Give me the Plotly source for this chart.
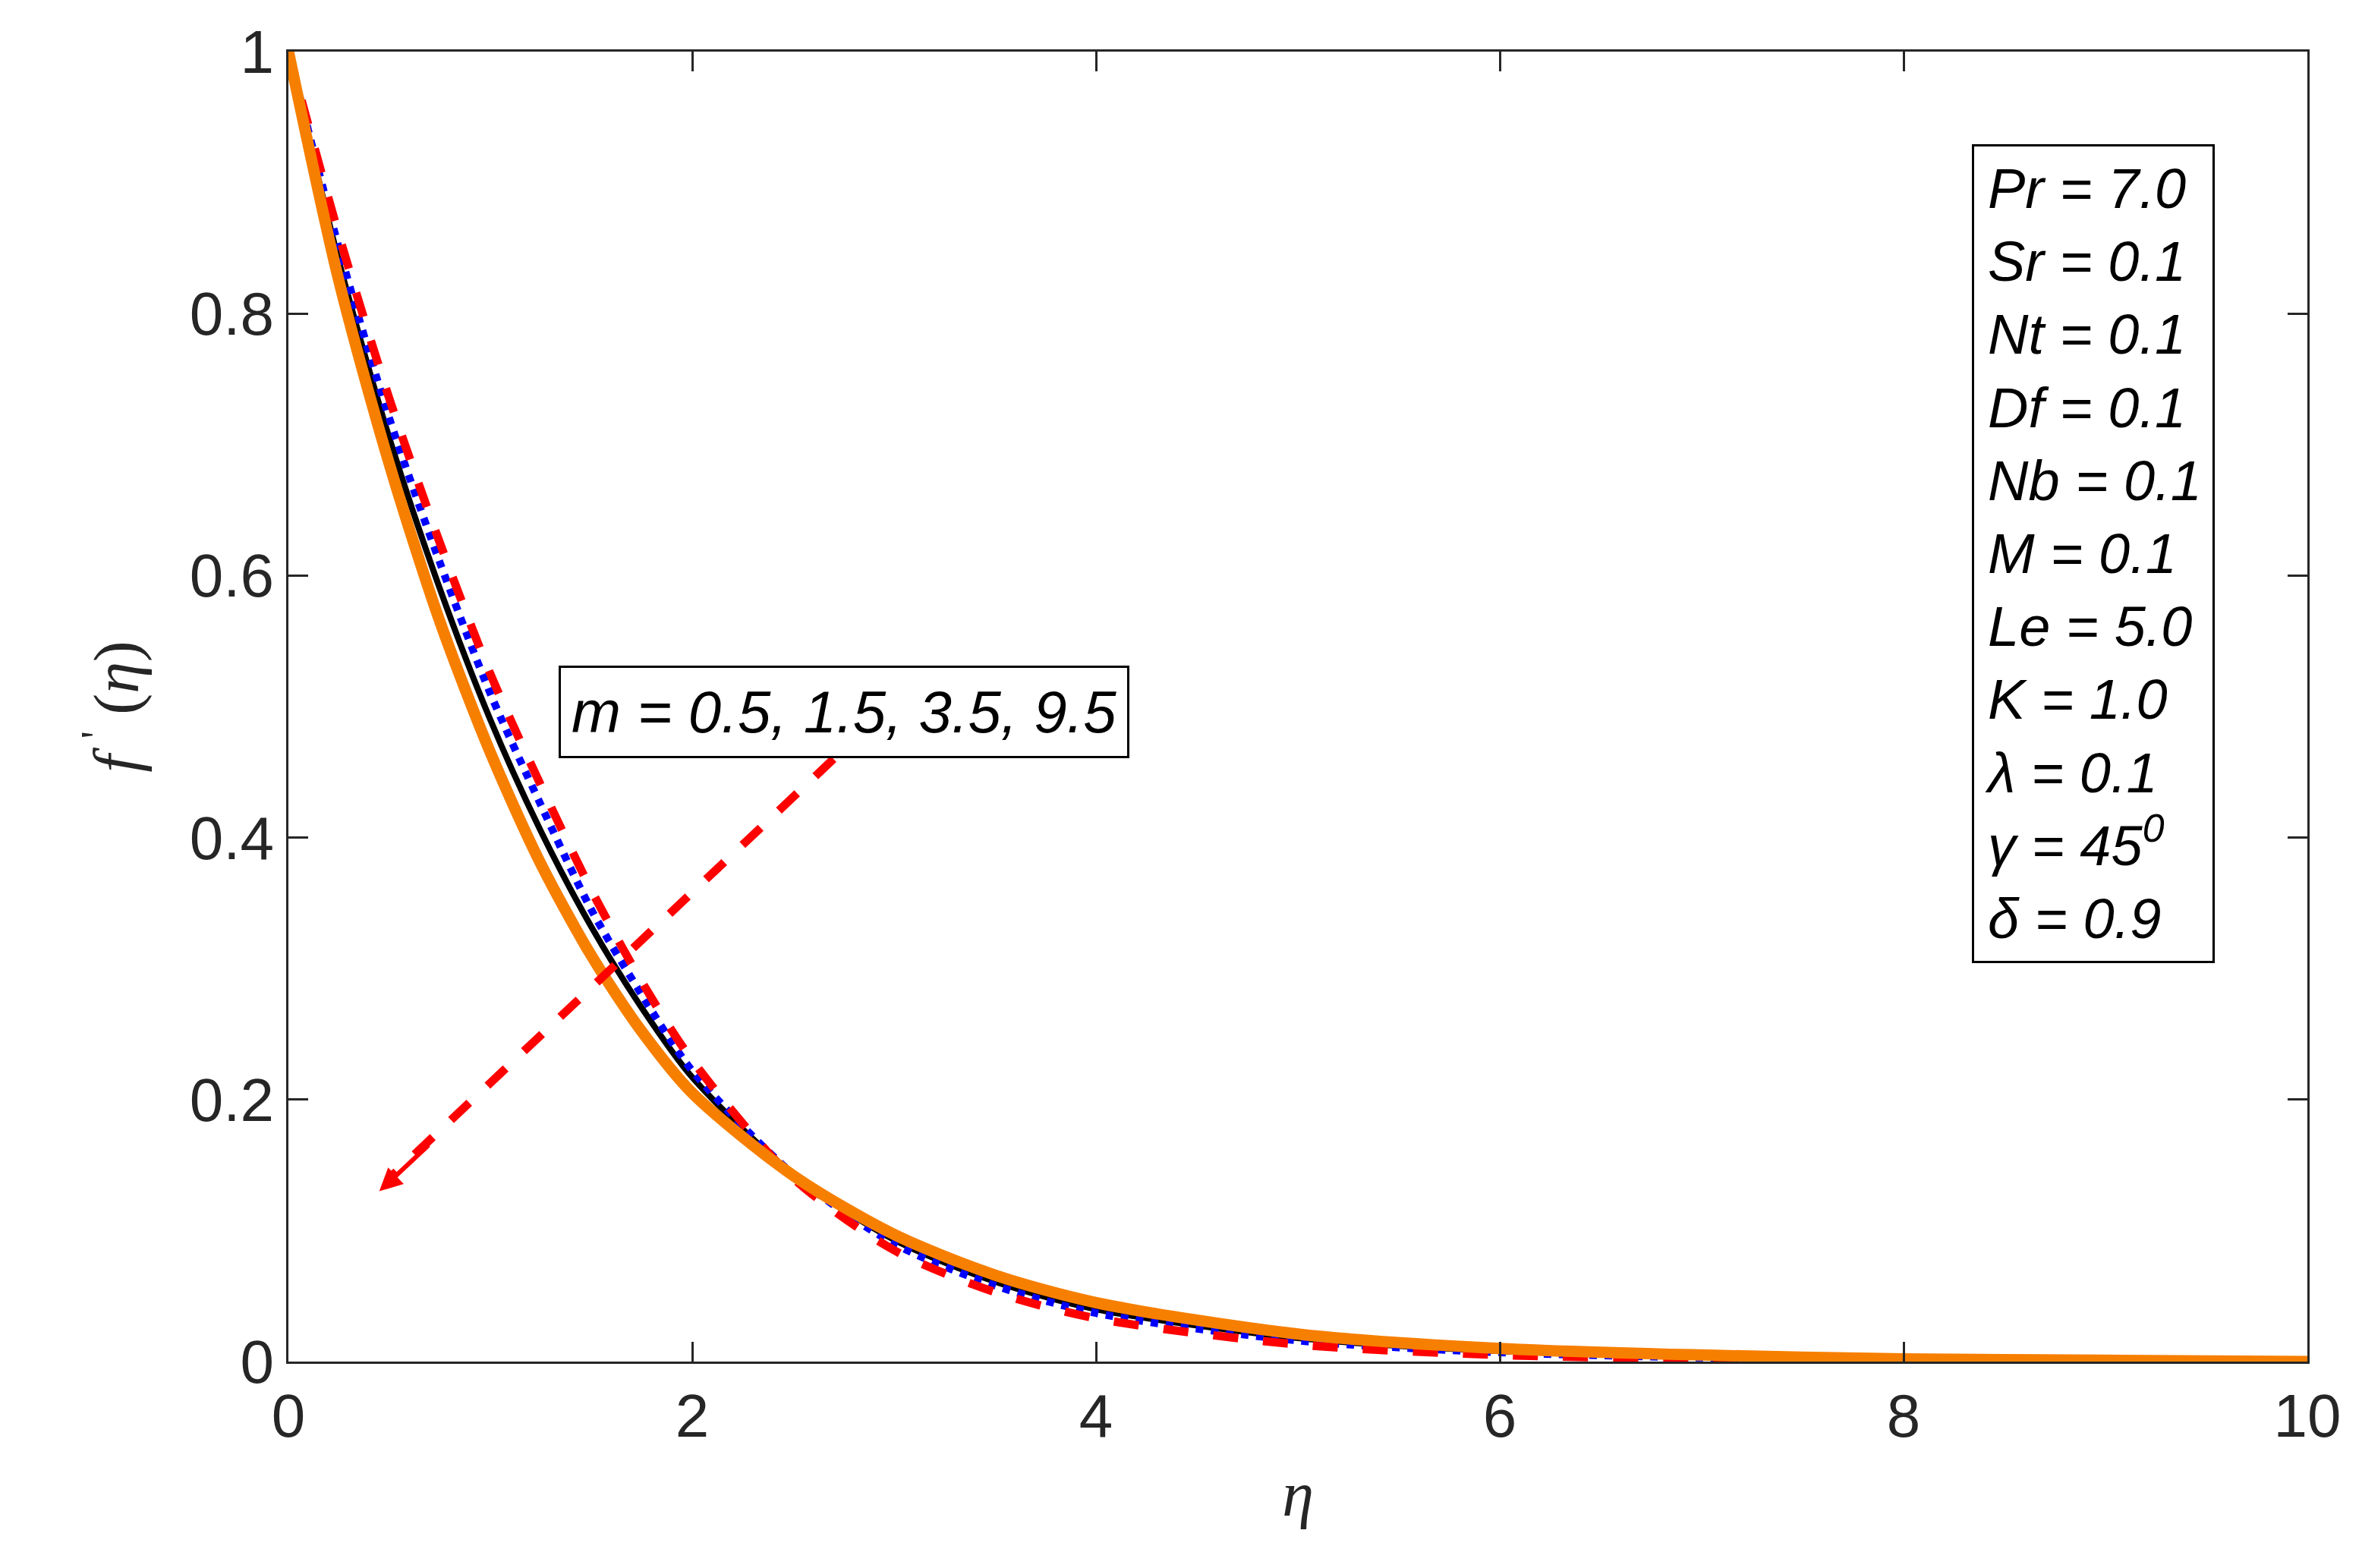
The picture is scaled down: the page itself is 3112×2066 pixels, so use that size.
import plotly.graph_objects as go

eta = [0, 0.25, 0.5, 0.75, 1.0, 1.25, 1.5, 1.75, 2.0, 2.5, 3.0, 3.5, 4.0, 5.0, 6.0, 7.0, 8.0, 9.0, 10.0]
f_m05 = [1, 0.86, 0.735, 0.625, 0.525, 0.44, 0.36, 0.29, 0.23, 0.14, 0.085, 0.053, 0.033, 0.013, 0.005, 0.002, 0.001, 0.0, 0.0]
f_m15 = [1, 0.85, 0.72, 0.61, 0.51, 0.425, 0.345, 0.28, 0.222, 0.143, 0.09, 0.058, 0.037, 0.016, 0.007, 0.003, 0.001, 0.0, 0.0]
f_m35 = [1, 0.84, 0.705, 0.59, 0.49, 0.405, 0.332, 0.27, 0.217, 0.143, 0.093, 0.061, 0.04, 0.018, 0.008, 0.004, 0.002, 0.001, 0.0]
f_m95 = [1, 0.825, 0.685, 0.565, 0.465, 0.38, 0.31, 0.252, 0.205, 0.142, 0.097, 0.066, 0.045, 0.021, 0.01, 0.005, 0.002, 0.001, 0.0]

params = ["Pr = 7.0", "Sr = 0.1", "Nt = 0.1", "Df = 0.1", "Nb = 0.1", "M = 0.1",
          "Le = 5.0", "K = 1.0", "λ = 0.1", "γ = 45<sup>0</sup>", "δ = 0.9"]
m_label = "m = 0.5, 1.5, 3.5, 9.5"

fig = go.Figure()
fig.add_trace(go.Scatter(x=eta, y=f_m35, mode="lines", line=dict(color="black", width=8, shape="spline", smoothing=0.8)))
fig.add_trace(go.Scatter(x=eta, y=f_m15, mode="lines", line=dict(color="blue", width=10, dash="dot", shape="spline", smoothing=0.8)))
fig.add_trace(go.Scatter(x=eta, y=f_m05, mode="lines", line=dict(color="red", width=11, dash="dash", shape="spline", smoothing=0.8)))
fig.add_trace(go.Scatter(x=eta, y=f_m95, mode="lines", line=dict(color="#f77f00", width=15, shape="spline", smoothing=0.8)))

# arrow
fig.add_shape(type="line", x0=2.7, y0=0.46, x1=0.5, y1=0.14, line=dict(color="red", width=11, dash="dash"))
fig.add_annotation(x=0.45, y=0.13, ax=0.7, ay=0.166, xref="x", yref="y", axref="x", ayref="y",
                   text="", showarrow=True, arrowhead=2, arrowsize=1, arrowwidth=6, arrowcolor="red")

fig.add_annotation(x=2.75, y=0.496, xref="x", yref="y", text="<i>" + m_label + "</i>", showarrow=False,
                   font=dict(size=78, color="black", family="Liberation Sans"),
                   bordercolor="black", borderwidth=3, bgcolor="white", borderpad=14)

fig.add_annotation(x=8.94, y=0.617, xref="x", yref="y", text="<i>" + "<br>".join(params) + "</i>",
                   showarrow=False, align="left", font=dict(size=74, color="black", family="Liberation Sans"),
                   bordercolor="black", borderwidth=3, bgcolor="white", borderpad=14)

axis_common = dict(showline=True, linecolor="#262626", linewidth=3, mirror="allticks", ticks="inside",
                   ticklen=26, tickwidth=3, tickcolor="#262626", showgrid=False, zeroline=False,
                   tickfont=dict(size=80, color="#262626", family="Liberation Sans"))
fig.update_xaxes(range=[0, 10], tickvals=[0, 2, 4, 6, 8, 10],
                 title=dict(text="<i>η</i>", font=dict(size=84, color="#262626", family="Liberation Serif"), standoff=30),
                 **axis_common)
fig.update_yaxes(range=[0, 1], tickvals=[0, 0.2, 0.4, 0.6, 0.8, 1], ticktext=["0", "0.2", "0.4", "0.6", "0.8", "1"],
                 title=dict(text="<i>f</i> <sup>'</sup> (<i>η</i>)", font=dict(size=84, color="#262626", family="Liberation Serif"), standoff=40),
                 **axis_common)
fig.update_layout(width=3112, height=2066, showlegend=False, plot_bgcolor="white", paper_bgcolor="white",
                  margin=dict(l=372, r=80, t=60, b=280))
fig.write_html("out.html")
